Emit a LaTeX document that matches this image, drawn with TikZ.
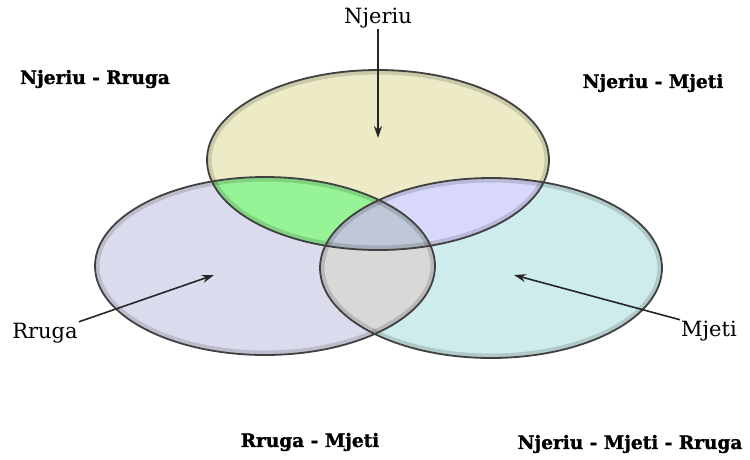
\documentclass[tikz,border=0pt]{standalone}
\usepackage{fontspec}
\setmainfont{DejaVu Serif}
\newfontfamily\heavyfont[FakeBold=1.4]{DejaVu Serif Bold}
\usetikzlibrary{arrows.meta}

\begin{document}
\begin{tikzpicture}[
	x=1pt, y=-1pt,
	set/.style={line width=1.8pt, draw=black!75},
	inshade/.style={line width=9pt, draw=black, opacity=0.14},
	title/.style={font=\fontsize{18.5}{22}\heavyfont, inner sep=0pt},
	setname/.style={font=\fontsize{21}{24}\selectfont, inner sep=1pt},
	pointer/.style={-{Stealth[length=12pt, width=8pt]}, line width=1.6pt, black!85}
	]
	\useasboundingbox (0,0) rectangle (750,459);
	
	% Define colors
	\definecolor{nj}{RGB}{236,235,198}    % Njeriu
	\definecolor{rr}{RGB}{219,219,238}    % Rruga
	\definecolor{mj}{RGB}{206,236,236}    % Mjeti
	\definecolor{njrr}{RGB}{150,244,150}  % Njeriu - Rruga
	\definecolor{njmj}{RGB}{216,216,252}  % Njeriu - Mjeti
	\definecolor{rrmj}{RGB}{216,216,216}  % Rruga - Mjeti
	\definecolor{all}{RGB}{190,200,216}   % Njeriu - Mjeti - Rruga
	
	% Ellipses
	\def\topset{(378,160) ellipse [x radius=171pt, y radius=90pt]}
	\def\leftset{(265,266) ellipse [x radius=170pt, y radius=89pt]}
	\def\rightset{(491,268) ellipse [x radius=171pt, y radius=90pt]}
	
	% Single sets
	\fill[nj] \topset;
	\fill[rr] \leftset;
	\fill[mj] \rightset;
	
	% Pairwise overlaps
	\begin{scope}
		\clip \topset;
		\fill[njrr] \leftset;
		\fill[njmj] \rightset;
	\end{scope}
	\begin{scope}
		\clip \leftset;
		\fill[rrmj] \rightset;
	\end{scope}
	% Triple overlap
	\begin{scope}
		\clip \topset;
		\clip \leftset;
		\fill[all] \rightset;
	\end{scope}
	
	% Soft inner edges
	\begin{scope}
		\clip \topset;
		\draw[inshade] \topset;
	\end{scope}
	\begin{scope}
		\clip \leftset;
		\draw[inshade] \leftset;
	\end{scope}
	\begin{scope}
		\clip \rightset;
		\draw[inshade] \rightset;
	\end{scope}
	
	% Outlines
	\draw[set] \topset;
	\draw[set] \leftset;
	\draw[set] \rightset;
	
	% Set names
	\node[setname] (njeriu) at (378,18) {Njeriu};
	\node[setname] (rruga) at (45,333) {Rruga};
	\node[setname] (mjeti) at (709,331) {Mjeti};
	
	\coordinate (njeriu-tip) at (378,138);
	\coordinate (rruga-tip) at (214,275);
	\coordinate (mjeti-tip) at (514,275);
	
	\draw[pointer] (njeriu.south) -- (njeriu-tip);
	\draw[pointer] (rruga.north east) -- (rruga-tip);
	\draw[pointer] (mjeti.north west) -- (mjeti-tip);
	
	% Overlap titles
	\node[title] (t-njrr) at (95,79) {Njeriu - Rruga};
	\node[title] (t-njmj) at (653,83) {Njeriu - Mjeti};
	\node[title] (t-rrmj) at (310,442) {Rruga - Mjeti};
	\node[title] (t-all) at (630,444) {Njeriu - Mjeti - Rruga};
\end{tikzpicture}
\end{document}
